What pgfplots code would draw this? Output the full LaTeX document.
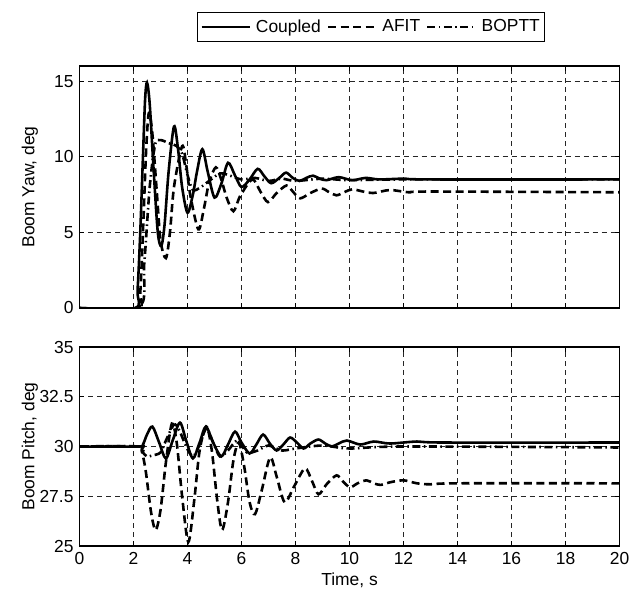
\documentclass[border=0pt]{standalone}
\usepackage{fontspec}
\setmainfont{Liberation Sans}
\usepackage{pgfplots}
\pgfplotsset{compat=1.18}

\newcommand{\chartfont}{\fontsize{17.5}{20}\selectfont}
\pgfplotsset{
    mstyle/.style={
        scale only axis, width=540bp,
        xmin=0, xmax=20, xtick={0,2,...,20},
        grid=major,
        major grid style={black!85, line width=0.6pt, dash pattern=on 5bp off 4bp},
        axis line style={line width=1.7pt},
        tick style={black, line width=0.7pt},
        tick align=inside, major tick length=5bp,
        /pgf/number format/assume math mode=true,
        ticklabel style={font=\chartfont},
        label style={font=\chartfont},
        ylabel style={at={(axis description cs:-0.092,0.5)}, anchor=center},
        legend image code/.code={\draw[##1, line width=2.6pt] (0bp,0bp) -- (48bp,0bp);},
    },
    solidc/.style={black, line width=2.6pt, smooth, tension=0.5},
    dashc/.style={black, line width=2.6pt, smooth, tension=0.5, dash pattern=on 8bp off 4.5bp},
    dotc/.style={black, line width=2.6pt, smooth, tension=0.5, dash pattern=on 8bp off 3.5bp on 1.5bp off 3.5bp},
}

\begin{document}
\chartfont
\begin{tikzpicture}
\useasboundingbox (-79.5bp,-48bp) rectangle (559.5bp,546bp);

% Boom yaw
\begin{axis}[mstyle, at={(0bp,238bp)}, height=242bp,
    ymin=0, ymax=16, ytick={0,5,10,15}, xticklabels={},
    ylabel={Boom Yaw, deg},
    legend columns=3,
    legend style={at={(0.54,1.161)}, anchor=center, draw=black, line width=0.8pt,
        font=\chartfont, inner xsep=3pt, inner ysep=5pt,
        /tikz/every odd column/.append style={column sep=3pt},
        /tikz/every even column/.append style={column sep=4pt}},
]
\addplot[solidc] coordinates {(0,0) (2.05,0) (2.15,1.2) (2.25,5) (2.35,10) (2.43,13.8) (2.5,14.9)
    (2.6,13.5) (2.75,9) (2.9,5) (3.03,4.1) (3.15,5.5) (3.3,9) (3.5,12) (3.65,10.5)
    (3.8,8) (4.0,6.3) (4.2,7.5) (4.35,9) (4.55,10.5) (4.75,9) (5.0,7.3) (5.25,8.2)
    (5.5,9.6) (5.75,8.8) (6.0,8.0) (6.3,8.5) (6.6,9.2) (6.85,8.7) (7.1,8.25)
    (7.4,8.6) (7.65,8.95) (7.9,8.6) (8.15,8.4) (8.4,8.6) (8.65,8.75) (8.9,8.55)
    (9.15,8.45) (9.6,8.65) (10.1,8.45) (10.6,8.6) (11.1,8.5) (12,8.55) (13,8.5) (20,8.5)};
\addlegendentry{Coupled}
\addplot[dashc] coordinates {(0,0) (2.15,0) (2.25,1) (2.35,5) (2.47,10.5) (2.57,12.9)
    (2.7,11.5) (2.85,8) (3.0,4.5) (3.2,3.3) (3.35,5) (3.5,8) (3.8,10.7) (3.95,9.5)
    (4.1,7.5) (4.4,5.2) (4.6,6.5) (4.8,8.3) (5.05,9.3) (5.25,8.5) (5.45,7.3)
    (5.7,6.4) (5.95,7.4) (6.4,8.5) (6.7,7.7) (6.98,7.0) (7.3,7.6) (7.67,8.1)
    (7.9,7.7) (8.17,7.25) (8.55,7.6) (8.97,7.9) (9.25,7.65) (9.52,7.45) (9.8,7.65)
    (10.1,7.85) (10.5,7.7) (10.87,7.6) (11.5,7.8) (12.2,7.65) (13,7.7) (20,7.65)};
\addlegendentry{AFIT}
\addplot[dotc] coordinates {(0,0) (2.2,0) (2.4,3) (2.6,8) (2.8,10.8) (3.0,11.1)
    (3.3,10.9) (3.6,10.7) (3.8,10.2) (4.0,8.8) (4.2,7.8) (4.5,8.0) (4.8,8.4)
    (5.2,8.9) (5.5,8.8) (6.0,8.5) (6.5,8.6) (7.0,8.4) (7.5,8.55) (8.0,8.4)
    (9.0,8.55) (10,8.45) (12,8.5) (20,8.5)};
\addlegendentry{BOPTT}
\end{axis}

% Boom pitch
\begin{axis}[mstyle, at={(0bp,0bp)}, height=199bp,
    ymin=25, ymax=35, ytick={25,27.5,30,32.5,35},
    xlabel={Time, s}, ylabel={Boom Pitch, deg},
    xlabel style={at={(axis description cs:0.5,-0.17)}, anchor=center},
]
\addplot[solidc] coordinates {(0,30) (2.2,30) (2.35,30.1) (2.5,30.6) (2.7,31.0)
    (2.95,30.2) (3.2,29.4) (3.45,30.3) (3.72,31.2) (3.95,30.3) (4.2,29.4)
    (4.45,30.2) (4.68,31.0) (4.95,30.2) (5.25,29.5) (5.5,30.1) (5.76,30.75)
    (6.0,30.2) (6.3,29.65) (6.55,30.1) (6.8,30.6) (7.05,30.15) (7.3,29.8)
    (7.55,30.1) (7.8,30.45) (8.05,30.2) (8.3,29.9) (8.55,30.15) (8.85,30.35)
    (9.1,30.15) (9.35,30.0) (9.6,30.15) (9.9,30.3) (10.4,30.1) (10.9,30.25)
    (11.5,30.15) (12.5,30.25) (13.5,30.2) (20,30.2)};
\addplot[dashc] coordinates {(0,30) (2.2,30) (2.3,29.8) (2.45,28.8) (2.65,26.7)
    (2.82,25.8) (3.0,26.8) (3.2,29.2) (3.42,31.15) (3.6,30.2) (3.8,27.5) (4.03,25.2)
    (4.25,27.3) (4.45,29.8) (4.7,31.0) (4.9,29.8) (5.1,27.3) (5.28,25.8) (5.5,27.2)
    (5.7,29.3) (5.9,30.2) (6.1,29.0) (6.3,27.2) (6.5,26.6) (6.75,27.8) (7.06,29.45)
    (7.3,28.5) (7.6,27.2) (7.95,28.0) (8.35,28.9) (8.6,28.3) (8.85,27.6) (9.15,28.1)
    (9.52,28.55) (9.75,28.25) (10.02,27.95) (10.3,28.15) (10.63,28.3) (10.9,28.15)
    (11.15,28.07) (11.5,28.2) (12,28.3) (12.5,28.15) (13,28.1) (14,28.15) (20,28.15)};
\addplot[dotc] coordinates {(0,30) (2.2,30) (2.35,29.7) (2.5,29.5) (2.7,29.55)
    (3.0,29.7) (3.2,30.3) (3.5,31.1) (3.7,30.8) (3.95,30.0) (4.2,29.5) (4.45,30.1)
    (4.7,30.9) (4.95,30.2) (5.2,29.5) (5.5,29.8) (5.85,30.3) (6.2,29.7) (6.6,29.8)
    (7.0,30.05) (7.5,29.8) (8.0,29.9) (9,30.05) (10,29.9) (12,30.0) (20,29.95)};
\end{axis}
\end{tikzpicture}
\end{document}
